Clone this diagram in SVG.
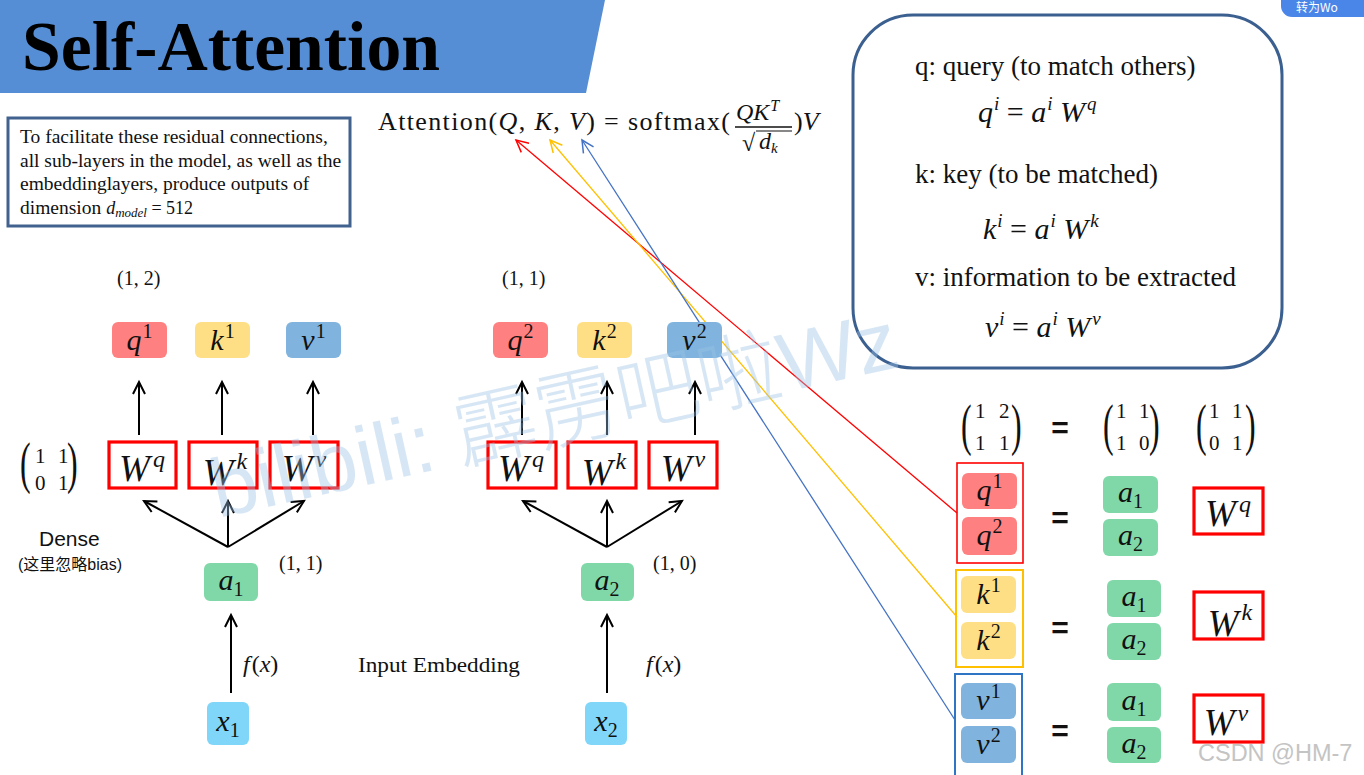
<svg xmlns="http://www.w3.org/2000/svg" width="1364" height="775" viewBox="0 0 1364 775">
<style>
.serif{font-family:"Liberation Serif","Times New Roman",serif}
.sans{font-family:"Liberation Sans",Arial,sans-serif}
.lbl{font-family:"Liberation Serif",serif;font-style:italic;font-size:30px;text-anchor:middle;fill:#111}
.up{font-style:normal;font-size:20px}
.wl{font-family:"Liberation Serif",serif;font-style:italic;font-size:37px;text-anchor:middle;fill:#111}
.wsup{font-size:24px}
.num{font-family:"Liberation Serif",serif;font-size:21px;fill:#111}
.par{font-family:"Liberation Serif",serif;font-size:58px;fill:#111}
.tup{font-family:"Liberation Serif",serif;font-size:20px;fill:#111}
.qbox{fill:#FF8080}
.kbox{fill:#FFDF85}
.vbox{fill:#80B4DE}
.abox{fill:#80D8A8}
.xbox{fill:#80D6F8}
.wbox{fill:#fff;stroke:#FF0000;stroke-width:3.2}
.arr{stroke:#000;stroke-width:2;fill:none}
.eq{font-family:"Liberation Sans",Arial,sans-serif;font-size:30px;font-weight:bold;text-anchor:middle;fill:#111}
.math{font-family:"Liberation Serif",serif;font-style:italic;font-size:30px;fill:#111}
.msup{font-size:19px}
.body{font-family:"Liberation Serif",serif;font-size:27px;fill:#111}
</style>
<defs>
<marker id="ah" markerUnits="userSpaceOnUse" markerWidth="16" markerHeight="16" refX="13" refY="7" orient="auto">
<path d="M1,1 L13,7 L1,13" fill="none" stroke="#000" stroke-width="2"/>
</marker>
<marker id="ahr" markerUnits="userSpaceOnUse" markerWidth="16" markerHeight="16" refX="13" refY="7" orient="auto">
<path d="M1,1 L13,7 L1,13" fill="none" stroke="#FF0000" stroke-width="1.5"/>
</marker>
<marker id="ahy" markerUnits="userSpaceOnUse" markerWidth="16" markerHeight="16" refX="13" refY="7" orient="auto">
<path d="M1,1 L13,7 L1,13" fill="none" stroke="#FFC000" stroke-width="1.5"/>
</marker>
<marker id="ahb" markerUnits="userSpaceOnUse" markerWidth="16" markerHeight="16" refX="13" refY="7" orient="auto">
<path d="M1,1 L13,7 L1,13" fill="none" stroke="#4472C4" stroke-width="1.5"/>
</marker>
</defs>
<rect width="1364" height="775" fill="#fff"/>

<!-- title band -->
<g id="title">
<polygon points="0,0 605,0 586,93 0,93" fill="#558ED5"/>
<text x="22" y="70" class="serif" font-size="70" font-weight="bold" fill="#000" textLength="418" lengthAdjust="spacingAndGlyphs">Self-Attention</text>
</g>

<!-- top-right button -->
<g id="button">
<rect x="1281" y="-12" width="100" height="29" rx="11" fill="#4A86E8"/>
<text x="1296" y="12" font-family="Noto Sans CJK SC,sans-serif" font-size="12" fill="#fff">转为Wo</text>
</g>

<!-- note box -->
<g id="note">
<rect x="8" y="118" width="342" height="108" fill="#fff" stroke="#41628E" stroke-width="3"/>
<text class="serif" font-size="19.5" fill="#111">
<tspan x="20" y="143">To facilitate these residual connections,</tspan>
<tspan x="20" y="167">all sub-layers in the model, as well as the</tspan>
<tspan x="20" y="190">embeddinglayers, produce outputs of</tspan>
<tspan x="20" y="214">dimension  <tspan font-style="italic" font-size="18">d</tspan><tspan font-style="italic" font-size="13" dy="3">model</tspan><tspan dy="-3" font-size="18"> = 512</tspan></tspan>
</text>
</g>

<!-- attention formula -->
<g id="formula">
<text x="378" y="130" class="serif" font-size="26" fill="#111" textLength="352" lengthAdjust="spacing">Attention(<tspan font-style="italic">Q</tspan>, <tspan font-style="italic">K</tspan>, <tspan font-style="italic">V</tspan>) = softmax(</text>
<text x="736" y="120" class="serif" font-size="24" font-style="italic" fill="#111">QK<tspan font-size="16" dy="-9" dx="1">T</tspan></text>
<line x1="735" y1="127" x2="792" y2="127" stroke="#111" stroke-width="1.3"/>
<text x="742" y="151" class="serif" font-size="24" fill="#111">√</text>
<line x1="756" y1="131" x2="792" y2="131" stroke="#111" stroke-width="1.2"/>
<text x="759" y="149" class="serif" font-size="24" font-style="italic" fill="#111">d<tspan font-size="15" dy="4">k</tspan></text>
<text x="794" y="130" class="serif" font-size="26" fill="#111">)<tspan font-style="italic">V</tspan></text>
</g>

<!-- definitions box -->
<g id="defs-box">
<rect x="853" y="15" width="429" height="353" rx="60" fill="#fff" stroke="#3B6090" stroke-width="3"/>
<text x="915" y="75" class="body">q: query (to match others)</text>
<text x="978" y="122" class="math">q<tspan class="msup" dy="-12" dx="1">i</tspan><tspan dy="12" font-style="normal"> = </tspan>a<tspan class="msup" dy="-12" dx="1">i</tspan><tspan dy="12"> W</tspan><tspan class="msup" dy="-12" dx="2">q</tspan></text>
<text x="915" y="183" class="body">k: key (to be matched)</text>
<text x="983" y="239" class="math">k<tspan class="msup" dy="-12" dx="1">i</tspan><tspan dy="12" font-style="normal"> = </tspan>a<tspan class="msup" dy="-12" dx="1">i</tspan><tspan dy="12"> W</tspan><tspan class="msup" dy="-12" dx="2">k</tspan></text>
<text x="915" y="286" class="body">v: information to be extracted</text>
<text x="985" y="337" class="math">v<tspan class="msup" dy="-12" dx="1">i</tspan><tspan dy="12" font-style="normal"> = </tspan>a<tspan class="msup" dy="-12" dx="1">i</tspan><tspan dy="12"> W</tspan><tspan class="msup" dy="-12" dx="2">v</tspan></text>
</g>

<!-- connectors -->
<g id="connectors">
<line x1="139" y1="435" x2="139" y2="382" class="arr" marker-end="url(#ah)"/>
<line x1="222" y1="435" x2="222" y2="382" class="arr" marker-end="url(#ah)"/>
<line x1="313" y1="435" x2="313" y2="382" class="arr" marker-end="url(#ah)"/>
<line x1="228" y1="547" x2="144" y2="501" class="arr" marker-end="url(#ah)"/>
<line x1="228" y1="547" x2="228" y2="501" class="arr" marker-end="url(#ah)"/>
<line x1="228" y1="547" x2="304" y2="501" class="arr" marker-end="url(#ah)"/>
<line x1="231" y1="693" x2="231" y2="615" class="arr" marker-end="url(#ah)"/>
<line x1="522" y1="435" x2="522" y2="382" class="arr" marker-end="url(#ah)"/>
<line x1="607" y1="435" x2="607" y2="382" class="arr" marker-end="url(#ah)"/>
<line x1="695" y1="435" x2="695" y2="382" class="arr" marker-end="url(#ah)"/>
<line x1="607" y1="547" x2="523" y2="501" class="arr" marker-end="url(#ah)"/>
<line x1="607" y1="547" x2="607" y2="501" class="arr" marker-end="url(#ah)"/>
<line x1="607" y1="547" x2="682" y2="501" class="arr" marker-end="url(#ah)"/>
<line x1="607" y1="693" x2="607" y2="615" class="arr" marker-end="url(#ah)"/>
<line x1="957" y1="513" x2="516" y2="140" stroke="#FF0000" stroke-width="1.3" marker-end="url(#ahr)"/>
<line x1="957" y1="617" x2="550" y2="140" stroke="#FFC000" stroke-width="1.3" marker-end="url(#ahy)"/>
<line x1="955" y1="720" x2="582" y2="140" stroke="#4472C4" stroke-width="1.3" marker-end="url(#ahb)"/>
</g>

<!-- left column -->
<g id="dim-12"><text x="117" y="285" class="tup">(1, 2)</text></g>
<g id="q1"><rect x="112" y="322" width="55" height="36" rx="6" class="qbox"/><text x="139.5" y="350" class="lbl">q<tspan class="up" dy="-12" dx="1">1</tspan></text></g>
<g id="k1"><rect x="195" y="322" width="55" height="36" rx="6" class="kbox"/><text x="222.5" y="350" class="lbl">k<tspan class="up" dy="-12" dx="1">1</tspan></text></g>
<g id="v1"><rect x="286" y="322" width="55" height="36" rx="6" class="vbox"/><text x="313.5" y="350" class="lbl">v<tspan class="up" dy="-12" dx="1">1</tspan></text></g>
<g id="matrix-w">
<text class="par" transform="translate(20,482) scale(0.55,1)">(</text>
<text x="35" y="463" class="num">1</text><text x="58" y="463" class="num">1</text>
<text x="35" y="490" class="num">0</text><text x="58" y="490" class="num">1</text>
<text class="par" transform="translate(67,482) scale(0.55,1)">)</text>
</g>
<g id="wq1"><rect x="109" y="442" width="67" height="46" class="wbox"/><text x="142" y="481" class="wl">W<tspan class="wsup" dy="-14" dx="3">q</tspan></text></g>
<g id="wk1"><rect x="189" y="442" width="68" height="46" class="wbox"/><text x="225" y="485" class="wl">W<tspan class="wsup" dy="-16" dx="3">k</tspan></text></g>
<g id="wv1"><rect x="270" y="442" width="68" height="46" class="wbox"/><text x="304" y="481" class="wl">W<tspan class="wsup" dy="-14" dx="3">v</tspan></text></g>
<g id="dense">
<text x="39" y="546" class="sans" font-size="21" fill="#111">Dense</text>
<text x="18" y="570" font-family="Liberation Sans,Noto Sans CJK SC,sans-serif" font-size="16" fill="#111">(这里忽略bias)</text>
</g>
<g id="a1"><rect x="204" y="563" width="54" height="38" rx="6" class="abox"/><text x="231" y="590" class="lbl">a<tspan class="up" dy="6">1</tspan></text></g>
<g id="dim-11a"><text x="279" y="570" class="tup">(1, 1)</text></g>
<g id="fx1"><text x="243" y="672" class="serif" font-size="24" fill="#111"><tspan font-style="italic">f</tspan><tspan dx="2">(</tspan><tspan font-style="italic">x</tspan>)</text></g>
<g id="x1"><rect x="207" y="702" width="42" height="43" rx="6" class="xbox"/><text x="228" y="731" class="lbl">x<tspan class="up" dy="6">1</tspan></text></g>
<g id="input-embedding"><text x="358" y="672" class="serif" font-size="22" fill="#111" textLength="162" lengthAdjust="spacingAndGlyphs">Input Embedding</text></g>

<!-- middle column -->
<g id="dim-11b"><text x="502" y="285" class="tup">(1, 1)</text></g>
<g id="q2"><rect x="493" y="322" width="55" height="36" rx="6" class="qbox"/><text x="520.5" y="350" class="lbl">q<tspan class="up" dy="-12" dx="1">2</tspan></text></g>
<g id="k2"><rect x="577" y="322" width="55" height="36" rx="6" class="kbox"/><text x="604.5" y="350" class="lbl">k<tspan class="up" dy="-12" dx="1">2</tspan></text></g>
<g id="v2"><rect x="667" y="322" width="55" height="36" rx="6" class="vbox"/><text x="694.5" y="350" class="lbl">v<tspan class="up" dy="-12" dx="1">2</tspan></text></g>
<g id="wq2"><rect x="488" y="442" width="68" height="46" class="wbox"/><text x="521" y="481" class="wl">W<tspan class="wsup" dy="-14" dx="3">q</tspan></text></g>
<g id="wk2"><rect x="568" y="442" width="68" height="46" class="wbox"/><text x="604" y="485" class="wl">W<tspan class="wsup" dy="-16" dx="3">k</tspan></text></g>
<g id="wv2"><rect x="649" y="442" width="68" height="46" class="wbox"/><text x="683" y="481" class="wl">W<tspan class="wsup" dy="-14" dx="3">v</tspan></text></g>
<g id="a2"><rect x="581" y="563" width="53" height="38" rx="6" class="abox"/><text x="607" y="590" class="lbl">a<tspan class="up" dy="6">2</tspan></text></g>
<g id="dim-10"><text x="653" y="570" class="tup">(1, 0)</text></g>
<g id="fx2"><text x="646" y="672" class="serif" font-size="24" fill="#111"><tspan font-style="italic">f</tspan><tspan dx="2">(</tspan><tspan font-style="italic">x</tspan>)</text></g>
<g id="x2"><rect x="585" y="702" width="42" height="43" rx="6" class="xbox"/><text x="606" y="731" class="lbl">x<tspan class="up" dy="6">2</tspan></text></g>

<!-- right bottom: matrices -->
<g id="matrix-q">
<text class="par" transform="translate(961,444) scale(0.55,1)">(</text>
<text x="975" y="418" class="num">1</text><text x="999" y="418" class="num">2</text>
<text x="975" y="450" class="num">1</text><text x="999" y="450" class="num">1</text>
<text class="par" transform="translate(1011,444) scale(0.55,1)">)</text>
</g>
<g id="eq0"><text x="1060" y="438" class="eq">=</text></g>
<g id="matrix-a">
<text class="par" transform="translate(1103,444) scale(0.55,1)">(</text>
<text x="1116" y="418" class="num">1</text><text x="1139" y="418" class="num">1</text>
<text x="1116" y="450" class="num">1</text><text x="1139" y="450" class="num">0</text>
<text class="par" transform="translate(1149,444) scale(0.55,1)">)</text>
</g>
<g id="matrix-w2">
<text class="par" transform="translate(1196,444) scale(0.55,1)">(</text>
<text x="1209" y="418" class="num">1</text><text x="1232" y="418" class="num">1</text>
<text x="1209" y="450" class="num">0</text><text x="1232" y="450" class="num">1</text>
<text class="par" transform="translate(1245,444) scale(0.55,1)">)</text>
</g>

<g id="q-group">
<rect x="957" y="463" width="66" height="100" fill="none" stroke="#FF0000" stroke-width="1.6"/>
<rect x="962" y="473" width="55" height="36" rx="6" class="qbox"/><text x="989.5" y="500" class="lbl">q<tspan class="up" dy="-12" dx="1">1</tspan></text>
<rect x="962" y="517" width="55" height="38" rx="6" class="qbox"/><text x="989.5" y="545" class="lbl">q<tspan class="up" dy="-12" dx="1">2</tspan></text>
</g>
<g id="eq1"><text x="1060" y="528" class="eq">=</text></g>
<g id="a-col1">
<rect x="1103" y="476" width="55" height="37" rx="6" class="abox"/><text x="1130.5" y="502" class="lbl">a<tspan class="up" dy="6">1</tspan></text>
<rect x="1103" y="519" width="55" height="37" rx="6" class="abox"/><text x="1130.5" y="545" class="lbl">a<tspan class="up" dy="6">2</tspan></text>
</g>
<g id="wq3"><rect x="1194" y="488" width="69" height="46" class="wbox"/><text x="1228" y="526" class="wl">W<tspan class="wsup" dy="-14" dx="3">q</tspan></text></g>

<g id="k-group">
<rect x="956" y="570" width="67" height="97" fill="none" stroke="#FFC000" stroke-width="2"/>
<rect x="961" y="576" width="55" height="37" rx="6" class="kbox"/><text x="988.5" y="604" class="lbl">k<tspan class="up" dy="-12" dx="1">1</tspan></text>
<rect x="961" y="622" width="55" height="37" rx="6" class="kbox"/><text x="988.5" y="650" class="lbl">k<tspan class="up" dy="-12" dx="1">2</tspan></text>
</g>
<g id="eq2"><text x="1060" y="638" class="eq">=</text></g>
<g id="a-col2">
<rect x="1107" y="580" width="54" height="37" rx="6" class="abox"/><text x="1134" y="606" class="lbl">a<tspan class="up" dy="6">1</tspan></text>
<rect x="1107" y="623" width="54" height="37" rx="6" class="abox"/><text x="1134" y="649" class="lbl">a<tspan class="up" dy="6">2</tspan></text>
</g>
<g id="wk3"><rect x="1194" y="592" width="69" height="47" class="wbox"/><text x="1230" y="636" class="wl">W<tspan class="wsup" dy="-16" dx="3">k</tspan></text></g>

<g id="v-group">
<rect x="955" y="674" width="67" height="110" fill="none" stroke="#2E75C6" stroke-width="2"/>
<rect x="961" y="683" width="55" height="36" rx="6" class="vbox"/><text x="988.5" y="710" class="lbl">v<tspan class="up" dy="-12" dx="1">1</tspan></text>
<rect x="961" y="726" width="55" height="37" rx="6" class="vbox"/><text x="988.5" y="754" class="lbl">v<tspan class="up" dy="-12" dx="1">2</tspan></text>
</g>
<g id="eq3"><text x="1060" y="741" class="eq">=</text></g>
<g id="a-col3">
<rect x="1107" y="683" width="54" height="38" rx="6" class="abox"/><text x="1134" y="710" class="lbl">a<tspan class="up" dy="6">1</tspan></text>
<rect x="1107" y="727" width="54" height="36" rx="6" class="abox"/><text x="1134" y="753" class="lbl">a<tspan class="up" dy="6">2</tspan></text>
</g>
<g id="wv3"><rect x="1194" y="695" width="69" height="47" class="wbox"/><text x="1226" y="735" class="wl">W<tspan class="wsup" dy="-14" dx="3">v</tspan></text></g>

<g id="csdn"><text x="1198" y="761" class="sans" font-size="23.5" fill="#C4C4C4">CSDN @HM-7</text></g>

<!-- watermark (on top, translucent) -->
<g id="watermark" opacity="0.4">
<text transform="translate(218,518) rotate(-12.5)" font-size="83" fill="#9CC3E6"><tspan font-family="Liberation Sans,Arial,sans-serif">bilibili: </tspan><tspan font-family="Noto Sans CJK SC,sans-serif" font-weight="300">霹雳吧啦</tspan><tspan font-family="Liberation Sans,Arial,sans-serif">Wz</tspan></text>
</g>
</svg>
